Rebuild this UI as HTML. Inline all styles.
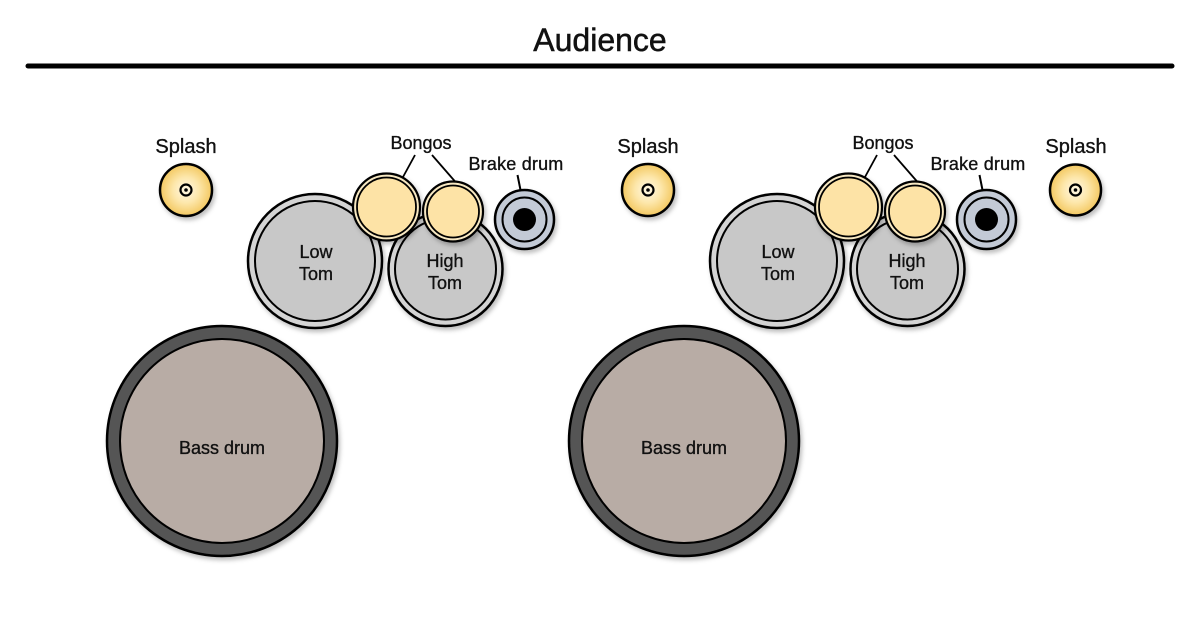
<!DOCTYPE html>
<html><head><meta charset="utf-8"><style>
html,body{margin:0;padding:0;background:#fff;}
svg{display:block;}
text{font-family:"Liberation Sans",sans-serif;fill:#111;stroke:#111;stroke-width:0.35px;}
</style></head><body>
<svg width="1200" height="622" viewBox="0 0 1200 622" xmlns="http://www.w3.org/2000/svg">
<defs>
<filter id="sh" x="-20%" y="-20%" width="150%" height="150%">
<feDropShadow dx="2" dy="3" stdDeviation="2" flood-color="#000" flood-opacity="0.25"/>
</filter>
<radialGradient id="spl" cx="50%" cy="50%" r="50%">
<stop offset="0" stop-color="#fff8e6"/>
<stop offset="0.5" stop-color="#fde7ab"/>
<stop offset="1" stop-color="#f3c860"/>
</radialGradient>
</defs>
<text x="600" y="51" font-size="32" text-anchor="middle" style="stroke-width:0.5px">Audience</text>
<line x1="28" y1="66" x2="1172" y2="66" stroke="#000" stroke-width="5" stroke-linecap="round"/>

<g>
<text x="186" y="153" font-size="20" text-anchor="middle">Splash</text>
<circle cx="186" cy="190" r="26" fill="url(#spl)" stroke="#000" stroke-width="2.5" filter="url(#sh)"/>
<circle cx="186" cy="190" r="5.5" fill="none" stroke="#000" stroke-width="2.2"/>
<circle cx="186" cy="190" r="1.8" fill="#000"/>
<circle cx="315" cy="261" r="67" fill="#d4d4d4" stroke="#000" stroke-width="2.5" filter="url(#sh)"/>
<circle cx="315" cy="261" r="60" fill="#c8c8c8" stroke="#000" stroke-width="2"/>
<text x="316" y="258" font-size="18" text-anchor="middle">Low</text>
<text x="316" y="280" font-size="18" text-anchor="middle">Tom</text>
<circle cx="445.5" cy="269" r="57" fill="#d4d4d4" stroke="#000" stroke-width="2.5" filter="url(#sh)"/>
<circle cx="445.5" cy="269" r="50.5" fill="#c8c8c8" stroke="#000" stroke-width="2"/>
<text x="445" y="267" font-size="18" text-anchor="middle">High</text>
<text x="445" y="289" font-size="18" text-anchor="middle">Tom</text>
<text x="421" y="149" font-size="18" text-anchor="middle">Bongos</text>
<line x1="415" y1="155" x2="403" y2="177" stroke="#000" stroke-width="1.8"/>
<line x1="432" y1="155" x2="459" y2="186" stroke="#000" stroke-width="1.8"/>
<circle cx="386.5" cy="207" r="33.5" fill="#f7e8c2" stroke="#000" stroke-width="2.2" filter="url(#sh)"/>
<circle cx="386.5" cy="207" r="29.5" fill="#fde3a6" stroke="#000" stroke-width="1.8"/>
<circle cx="453" cy="211.5" r="30" fill="#f7e8c2" stroke="#000" stroke-width="2.2" filter="url(#sh)"/>
<circle cx="453" cy="211.5" r="26" fill="#fde3a6" stroke="#000" stroke-width="1.8"/>
<text x="516" y="170" font-size="18" text-anchor="middle" letter-spacing="0.2">Brake drum</text>
<line x1="517.5" y1="175" x2="520.5" y2="190" stroke="#000" stroke-width="2"/>
<circle cx="524.5" cy="219.5" r="29.5" fill="#c3cad6" stroke="#000" stroke-width="2.5" filter="url(#sh)"/>
<circle cx="524.5" cy="219.5" r="22" fill="none" stroke="#000" stroke-width="2"/>
<circle cx="524.5" cy="219.5" r="11.5" fill="#000"/>
<circle cx="222" cy="441" r="115" fill="#555" stroke="#000" stroke-width="2.5" filter="url(#sh)"/>
<circle cx="222" cy="441" r="102" fill="#b8aca5" stroke="#000" stroke-width="2"/>
<text x="222" y="454" font-size="18" text-anchor="middle">Bass drum</text>
</g>

<g transform="translate(462,0)">
<text x="186" y="153" font-size="20" text-anchor="middle">Splash</text>
<circle cx="186" cy="190" r="26" fill="url(#spl)" stroke="#000" stroke-width="2.5" filter="url(#sh)"/>
<circle cx="186" cy="190" r="5.5" fill="none" stroke="#000" stroke-width="2.2"/>
<circle cx="186" cy="190" r="1.8" fill="#000"/>
<circle cx="315" cy="261" r="67" fill="#d4d4d4" stroke="#000" stroke-width="2.5" filter="url(#sh)"/>
<circle cx="315" cy="261" r="60" fill="#c8c8c8" stroke="#000" stroke-width="2"/>
<text x="316" y="258" font-size="18" text-anchor="middle">Low</text>
<text x="316" y="280" font-size="18" text-anchor="middle">Tom</text>
<circle cx="445.5" cy="269" r="57" fill="#d4d4d4" stroke="#000" stroke-width="2.5" filter="url(#sh)"/>
<circle cx="445.5" cy="269" r="50.5" fill="#c8c8c8" stroke="#000" stroke-width="2"/>
<text x="445" y="267" font-size="18" text-anchor="middle">High</text>
<text x="445" y="289" font-size="18" text-anchor="middle">Tom</text>
<text x="421" y="149" font-size="18" text-anchor="middle">Bongos</text>
<line x1="415" y1="155" x2="403" y2="177" stroke="#000" stroke-width="1.8"/>
<line x1="432" y1="155" x2="459" y2="186" stroke="#000" stroke-width="1.8"/>
<circle cx="386.5" cy="207" r="33.5" fill="#f7e8c2" stroke="#000" stroke-width="2.2" filter="url(#sh)"/>
<circle cx="386.5" cy="207" r="29.5" fill="#fde3a6" stroke="#000" stroke-width="1.8"/>
<circle cx="453" cy="211.5" r="30" fill="#f7e8c2" stroke="#000" stroke-width="2.2" filter="url(#sh)"/>
<circle cx="453" cy="211.5" r="26" fill="#fde3a6" stroke="#000" stroke-width="1.8"/>
<text x="516" y="170" font-size="18" text-anchor="middle" letter-spacing="0.2">Brake drum</text>
<line x1="517.5" y1="175" x2="520.5" y2="190" stroke="#000" stroke-width="2"/>
<circle cx="524.5" cy="219.5" r="29.5" fill="#c3cad6" stroke="#000" stroke-width="2.5" filter="url(#sh)"/>
<circle cx="524.5" cy="219.5" r="22" fill="none" stroke="#000" stroke-width="2"/>
<circle cx="524.5" cy="219.5" r="11.5" fill="#000"/>
<circle cx="222" cy="441" r="115" fill="#555" stroke="#000" stroke-width="2.5" filter="url(#sh)"/>
<circle cx="222" cy="441" r="102" fill="#b8aca5" stroke="#000" stroke-width="2"/>
<text x="222" y="454" font-size="18" text-anchor="middle">Bass drum</text>
</g>

<text x="1076" y="153" font-size="20" text-anchor="middle">Splash</text>
<circle cx="1075.5" cy="190" r="25.5" fill="url(#spl)" stroke="#000" stroke-width="2.5" filter="url(#sh)"/>
<circle cx="1075.5" cy="190" r="5.5" fill="none" stroke="#000" stroke-width="2.2"/>
<circle cx="1075.5" cy="190" r="1.8" fill="#000"/>
</svg>
</body></html>
